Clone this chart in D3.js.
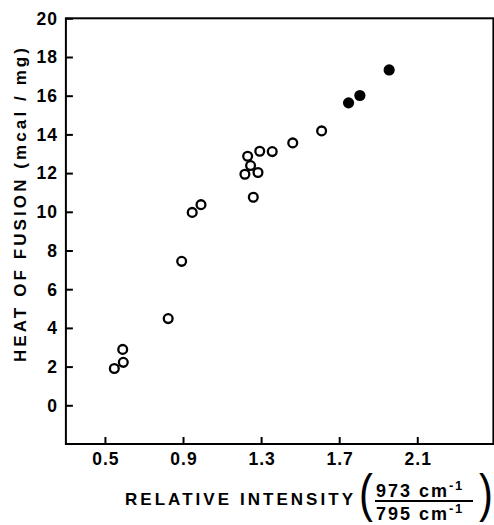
<!DOCTYPE html>
<html>
<head>
<meta charset="utf-8">
<script src="https://cdn.jsdelivr.net/npm/d3@7"></script>
<style>
  html, body { margin: 0; padding: 0; background: #fff; }
  svg { display: block; }
</style>
</head>
<body>
<svg width="494" height="525"></svg>
<script>
// relative intensity (973/795 cm-1) vs heat of fusion (mcal/mg)
openX = [0.548, 0.594, 0.591, 0.824, 0.893, 0.947, 0.992, 1.260, 1.217, 1.284, 1.246, 1.231, 1.293, 1.357, 1.462, 1.610]
openY = [1.90, 2.22, 2.89, 4.48, 7.44, 9.97, 10.37, 10.75, 11.94, 12.03, 12.39, 12.87, 13.13, 13.11, 13.56, 14.18]
filledX = [1.748, 1.806, 1.956]
filledY = [15.63, 16.01, 17.33]
xTicks = [0.5, 0.9, 1.3, 1.7, 2.1]
yTicks = [0, 2, 4, 6, 8, 10, 12, 14, 16, 18, 20]

width = 494
height = 525
font = "'Liberation Sans', Arial, sans-serif"

x = d3.scaleLinear().domain([0.3, 2.49]).range([65.9, 493.4])
y = d3.scaleLinear().domain([-2, 20]).range([444, 18.3])

svg = d3.select("svg")
    .attr("font-family", font)
    .attr("font-weight", "bold")

// frame
svg.append("rect")
    .attr("x", x(0.3))
    .attr("y", y(20))
    .attr("width", x(2.49) - x(0.3))
    .attr("height", y(-2) - y(20))
    .attr("fill", "none")
    .attr("stroke", "#000")
    .attr("stroke-width", 2)

// y axis, ticks pointing inward
yAxis = svg.append("g")
    .attr("transform", `translate(${x(0.3)},0)`)
    .call(d3.axisRight(y).tickValues(yTicks).tickSize(7).tickFormat(""))
yAxis.select(".domain").remove()
yAxis.selectAll("line").attr("stroke-width", 2)

svg.append("g")
  .selectAll("text")
  .data(yTicks)
  .join("text")
    .attr("x", 58)
    .attr("y", d => y(d))
    .attr("dy", "0.36em")
    .attr("text-anchor", "end")
    .attr("font-size", 17.5)
    .attr("letter-spacing", 1)
    .text(d => d)

// x axis, ticks pointing inward
xAxis = svg.append("g")
    .attr("transform", `translate(0,${y(-2)})`)
    .call(d3.axisTop(x).tickValues(xTicks).tickSize(7).tickFormat(""))
xAxis.select(".domain").remove()
xAxis.selectAll("line").attr("stroke-width", 2)

svg.append("g")
  .selectAll("text")
  .data(xTicks)
  .join("text")
    .attr("x", d => x(d) + 1)
    .attr("y", 465)
    .attr("text-anchor", "middle")
    .attr("font-size", 17.5)
    .attr("letter-spacing", 1)
    .text(d => d3.format(".1f")(d))

// axis titles
svg.append("text")
    .attr("transform", "translate(26,362) rotate(-90)")
    .attr("font-size", 17)
    .attr("textLength", 314)
    .attr("lengthAdjust", "spacing")
    .text("HEAT OF FUSION (mcal / mg)")

svg.append("text")
    .attr("x", 125)
    .attr("y", 505)
    .attr("font-size", 17)
    .attr("textLength", 228)
    .attr("lengthAdjust", "spacing")
    .text("RELATIVE INTENSITY")

frac = svg.append("g")
function paren(px, ch) {
  frac.append("text")
      .attr("x", px)
      .attr("y", 511)
      .attr("font-size", 52)
      .attr("font-weight", "normal")
      .attr("transform", `translate(${px},511) scale(0.8,1) translate(${-px},-511)`)
      .text(ch)
}
paren(359, "(")
paren(479, ")")
frac.append("line")
    .attr("x1", 375).attr("x2", 473)
    .attr("y1", 501).attr("y2", 501)
    .attr("stroke", "#000")
    .attr("stroke-width", 2)
function fracText(yy, num) {
  const t = frac.append("text")
      .attr("x", 376)
      .attr("y", yy)
      .attr("font-size", 18)
      .attr("letter-spacing", 2)
  t.append("tspan").text(num + " cm")
  t.append("tspan").attr("dy", -7).attr("font-size", 13).attr("letter-spacing", 1.5).text("-1")
}
fracText(497, "973")
fracText(520, "795")

// data
open = openX.map((d, i) => ({x: d, y: openY[i]}))
filled = filledX.map((d, i) => ({x: d, y: filledY[i]}))

svg.append("g")
  .selectAll("circle")
  .data(open)
  .join("circle")
    .attr("cx", d => x(d.x))
    .attr("cy", d => y(d.y))
    .attr("r", 4.4)
    .attr("fill", "#fff")
    .attr("stroke", "#000")
    .attr("stroke-width", 2.3)

svg.append("g")
  .selectAll("circle")
  .data(filled)
  .join("circle")
    .attr("cx", d => x(d.x))
    .attr("cy", d => y(d.y))
    .attr("r", 5.6)
    .attr("fill", "#000")
</script>
</body>
</html>
